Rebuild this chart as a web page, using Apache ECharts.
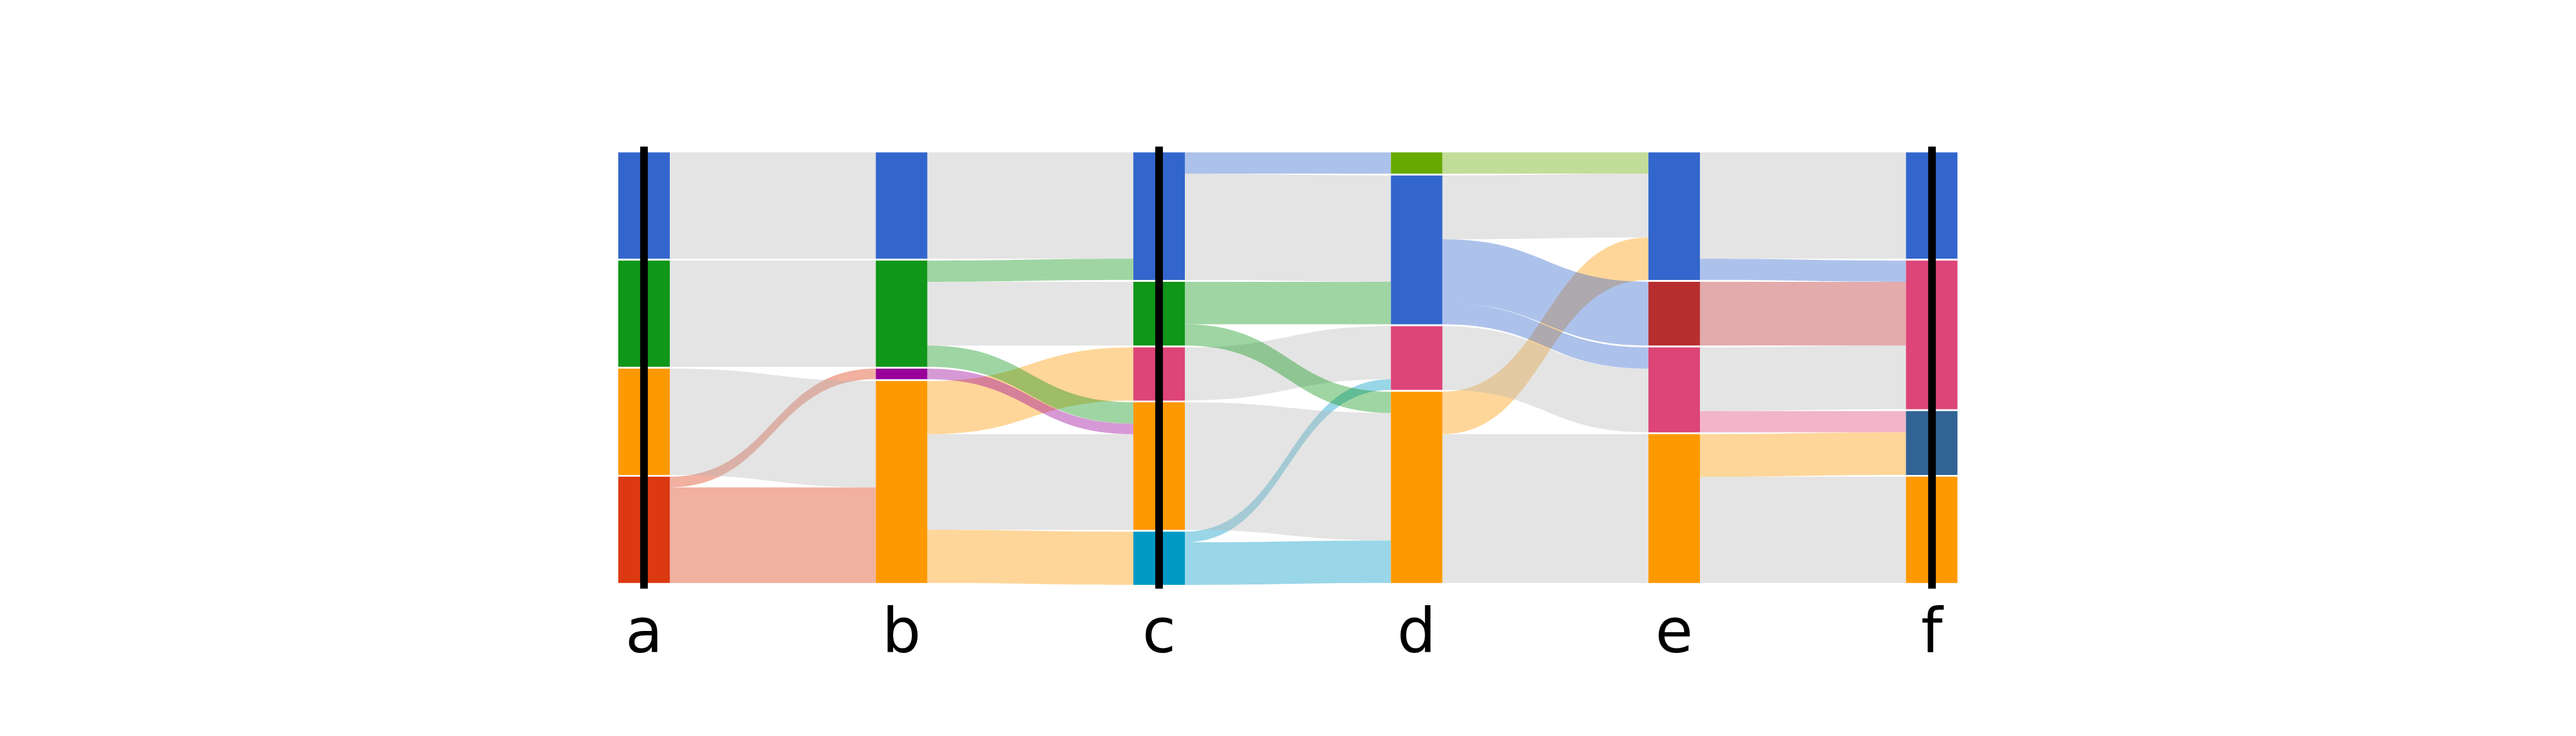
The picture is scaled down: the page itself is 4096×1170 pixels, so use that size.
<!DOCTYPE html>
<html>
<head>
<meta charset="utf-8">
<script src="https://cdn.jsdelivr.net/npm/echarts@6/dist/echarts.min.js"></script>
<style>
html,body{margin:0;padding:0;background:#ffffff;}
#chart{width:4096px;height:1170px;}
</style>
</head>
<body>
<div id="chart"></div>
<script>
// ---- data ----
const columns = ['a', 'b', 'c', 'd', 'e', 'f'];

const palette = {
  blue: '#3366cc', red: '#dc3912', orange: '#ff9900', green: '#109618',
  purple: '#990099', cyan: '#0099c6', pink: '#dd4477', lime: '#66aa00',
  darkred: '#b82e2e', steel: '#316395'
};

// clusters of each column, top to bottom
const clustersA = ['blue', 'green', 'orange', 'red'];
const clustersB = ['blue', 'green', 'purple', 'orange'];
const clustersC = ['blue', 'green', 'pink', 'orange', 'cyan'];
const clustersD = ['lime', 'blue', 'pink', 'orange'];
const clustersE = ['blue', 'darkred', 'pink', 'orange'];
const clustersF = ['blue', 'pink', 'steel', 'orange'];

// flows between consecutive columns: [from cluster, to cluster, count]
const flowsAB = [['blue', 'blue', 10], ['green', 'green', 10], ['orange', 'orange', 10],
                 ['red', 'purple', 1], ['red', 'orange', 9]];
const flowsBC = [['blue', 'blue', 10], ['green', 'blue', 2], ['green', 'green', 6],
                 ['green', 'orange', 2], ['purple', 'orange', 1],
                 ['orange', 'pink', 5], ['orange', 'orange', 9], ['orange', 'cyan', 5]];
const flowsCD = [['blue', 'lime', 2], ['blue', 'blue', 10], ['green', 'blue', 4],
                 ['green', 'orange', 2], ['pink', 'pink', 5], ['orange', 'orange', 12],
                 ['cyan', 'pink', 1], ['cyan', 'orange', 4]];
const flowsDE = [['lime', 'blue', 2], ['blue', 'blue', 6], ['blue', 'darkred', 6],
                 ['blue', 'pink', 2], ['pink', 'pink', 6], ['orange', 'blue', 4],
                 ['orange', 'orange', 14]];
const flowsEF = [['blue', 'blue', 10], ['blue', 'pink', 2], ['darkred', 'pink', 6],
                 ['pink', 'pink', 6], ['pink', 'steel', 2], ['orange', 'steel', 4],
                 ['orange', 'orange', 10]];

// columns that carry a black vertical rule
const ruledColumns = ['a', 'c', 'f'];

// ---- build ----
const S = 0.975;
const clusterLists = [clustersA, clustersB, clustersC, clustersD, clustersE, clustersF];
const flowLists = [flowsAB, flowsBC, flowsCD, flowsDE, flowsEF];

const nodes = [];
clusterLists.forEach(function (list, ci) {
  list.forEach(function (cl) {
    nodes.push({
      name: columns[ci] + ':' + cl,
      itemStyle: { color: palette[cl] }
    });
  });
});

const links = [];
flowLists.forEach(function (list, ci) {
  const src = clusterLists[ci];
  const dst = clusterLists[ci + 1];
  // draw order: lower clusters first, so upper ones paint over them
  const ordered = list.slice().sort(function (p, q) {
    return (src.indexOf(q[0]) - src.indexOf(p[0])) || (dst.indexOf(q[1]) - dst.indexOf(p[1]));
  });
  ordered.forEach(function (f) {
    const same = f[0] === f[1];
    links.push({
      source: columns[ci] + ':' + f[0],
      target: columns[ci + 1] + ':' + f[1],
      value: f[2],
      lineStyle: same
        ? { color: '#b4b4b4', opacity: 0.36 }
        : { color: palette[f[0]], opacity: 0.4 }
    });
  });
});

const sankeyLeft = 1008.3 * S;
const nodeW = 84 * S;
const sankeyRight = 3192.3 * S;
const sankeyTop = 248.5 * S;
const sankeyH = 705 * S;
const gap = 3 * S;

const gridLeft = sankeyLeft + nodeW / 2;
const gridWidth = (sankeyRight - sankeyLeft) - nodeW;

const chart = echarts.init(document.getElementById('chart'), null, { renderer: 'canvas' });
chart.setOption({
  animation: false,
  backgroundColor: '#ffffff',
  grid: {
    left: gridLeft,
    top: 239 * S,
    width: gridWidth,
    height: (959.7 - 239) * S,
    containLabel: false
  },
  xAxis: {
    type: 'category',
    data: columns,
    boundaryGap: false,
    axisLine: { show: false },
    axisTick: { show: false },
    splitLine: { show: false },
    axisLabel: {
      color: '#000000',
      fontFamily: 'DejaVu Sans',
      fontSize: 100 * S,
      margin: 27
    }
  },
  yAxis: {
    type: 'value', min: 0, max: 1, show: false
  },
  series: [
    {
      type: 'sankey',
      z: 1,
      left: sankeyLeft,
      top: sankeyTop,
      width: sankeyRight - sankeyLeft,
      height: sankeyH,
      nodeWidth: nodeW,
      nodeGap: gap,
      nodeAlign: 'justify',
      layoutIterations: 0,
      draggable: false,
      silent: true,
      label: { show: false },
      emphasis: { disabled: true },
      itemStyle: { borderWidth: 0 },
      lineStyle: { curveness: 0.5 },
      data: nodes,
      links: links
    },
    {
      type: 'line',
      z: 5,
      data: columns.map(function () { return null; }),
      symbol: 'none',
      silent: true,
      markLine: {
        silent: true,
        symbol: ['none', 'none'],
        label: { show: false },
        emphasis: { disabled: true },
        lineStyle: { color: '#000000', width: 12.5 * S, type: 'solid', opacity: 1 },
        data: ruledColumns.map(function (c) { return { xAxis: c }; })
      }
    }
  ]
});
</script>
</body>
</html>
